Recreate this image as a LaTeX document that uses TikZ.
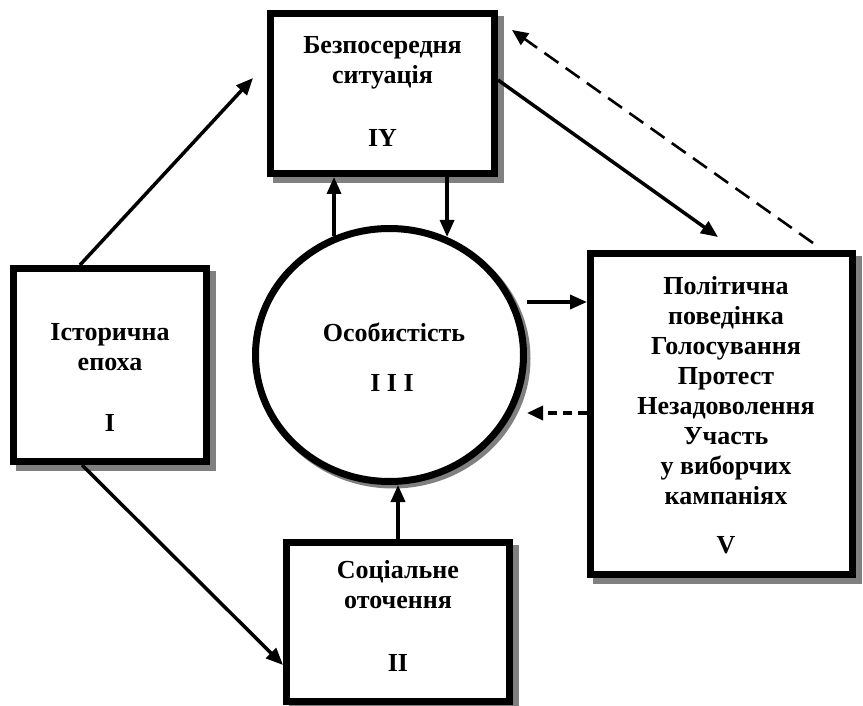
\documentclass[tikz,border=0pt]{standalone}
\usepackage{fontspec}
\setmainfont{Liberation Serif}
\usetikzlibrary{arrows.meta,shadows,shapes.geometric}
\begin{document}
\begin{tikzpicture}[x=1pt,y=-1pt,
  box/.style={draw, line width=7pt, fill=white, inner sep=0pt,
    drop shadow={shadow xshift=6pt, shadow yshift=-6pt, fill=gray, draw=gray, line width=7pt, opacity=1}},
  oval/.style={ellipse, draw, line width=7pt, fill=white, inner sep=0pt,
    drop shadow={shadow xshift=3.5pt, shadow yshift=-3.5pt, fill=gray, draw=gray, line width=7pt, opacity=1}},
  txt/.style={font=\bfseries\fontsize{26}{30}\selectfont, align=center, inner sep=0pt},
  arr/.style={line width=3.5pt, -{Triangle[length=17pt,width=14pt]}},
  darr/.style={line width=2.6pt, dash pattern=on 17pt off 9pt, -{Triangle[length=16pt,width=14pt]}},
  darrb/.style={line width=3.5pt, dash pattern=on 9pt off 6pt, -{Triangle[length=16pt,width=14pt]}}
]
\useasboundingbox (0,0) rectangle (863,706);
% shapes
\node[box, minimum width=193pt, minimum height=193pt] (epoch) at (110,365) {};
\node[box, minimum width=224pt, minimum height=160pt] (situation) at (382.5,93.5) {};
\node[box, minimum width=223pt, minimum height=159pt] (social) at (398,622) {};
\node[box, minimum width=262pt, minimum height=321pt] (behaviour) at (721.5,414) {};
\node[oval, minimum width=268pt, minimum height=253pt] (person) at (389.5,355) {};
% texts
\node[txt] (t1) at (110,347) {Історична\\епоха};
\node[txt] (n1) at (110,423) {I};
\node[txt] (t4) at (382.5,63) {Безпосередня\\ситуація};
\node[txt] (n4) at (382.5,138) {IY};
\node[txt] (t3) at (394,332) {Особистість};
\node[txt] (n3) at (392,383) {I I I};
\node[txt] (t5) at (726,391) {Політична\\поведінка\\Голосування\\Протест\\Незадоволення\\Участь\\у виборчих\\кампаніях};
\node[txt] (n5) at (726,545) {V};
\node[txt] (t2) at (398,585) {Соціальне\\оточення};
\node[txt] (n2) at (398,663) {II};
% connectors
\draw[arr] ([xshift=-30pt]epoch.north) -- ([xshift=-14pt,yshift=15.5pt]situation.west);
\draw[arr] ([xshift=-28pt]epoch.south) -- ([yshift=-43pt]social.west);
\draw[arr] (person.115) -- (person.115 |- situation.south);
\draw[arr] (person.64 |- situation.south) -- (person.64);
\draw[arr] (social.north) -- (social.north |- person.south);
\coordinate (pv) at ([yshift=53pt]person.east);
\coordinate (vp) at ([yshift=-58pt]person.east);
\draw[arr] (pv) -- (pv -| behaviour.west);
\draw[darrb] (vp -| behaviour.west) -- (vp);
\draw[arr] ([yshift=13.5pt]situation.east) -- ([xshift=-3.5pt,yshift=13pt]behaviour.north);
\draw[darr] ([xshift=91.5pt,yshift=7pt]behaviour.north) -- ([xshift=14pt,yshift=-20pt]situation.north east);
\end{tikzpicture}
\end{document}
